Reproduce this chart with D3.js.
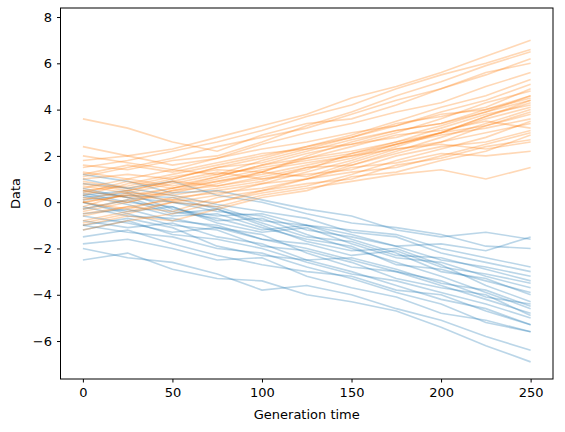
<!DOCTYPE html>
<html><head><meta charset="utf-8">
<script src="https://cdn.jsdelivr.net/npm/d3@7"></script>
<style>body{margin:0;background:#fff}text{font-family:"DejaVu Sans",sans-serif}</style>
</head><body><svg id="c" width="565" height="432"></svg>
<script>
const generations = [0,25,50,75,100,125,150,175,200,225,250];
const xTicks = [0,50,100,150,200,250];
const yTicks = [-6,-4,-2,0,2,4,6,8];
const blueSeries = [
[-0.5,-0.3,-0.8,-1.0,-1.6,-2.0,-2.5,-3.0,-3.6,-4.2,-4.8],
[0.3,0.5,0.0,-0.4,-0.6,-1.2,-1.5,-1.9,-2.5,-2.8,-3.2],
[-1.0,-1.3,-1.5,-2.0,-2.2,-2.8,-3.3,-3.9,-4.4,-5.2,-5.6],
[0.8,0.6,0.9,0.3,0.0,-0.5,-0.9,-1.1,-1.4,-1.9,-2.0],
[-2.0,-2.4,-2.6,-3.1,-3.8,-3.6,-4.0,-4.6,-5.1,-5.8,-6.4],
[0.0,-0.4,-0.2,-0.9,-1.3,-1.1,-1.8,-2.4,-2.6,-3.2,-3.7],
[-0.3,0.1,-0.5,-0.3,-1.0,-1.7,-2.1,-2.0,-2.7,-3.6,-4.3],
[1.2,0.9,0.4,0.5,0.1,-0.3,-0.6,-1.2,-1.5,-1.3,-1.6],
[-1.5,-1.2,-1.8,-2.3,-2.7,-3.0,-3.2,-3.8,-4.0,-4.7,-5.3],
[0.5,0.2,0.0,-0.2,-0.8,-1.0,-1.6,-2.2,-3.0,-3.3,-4.0],
[-0.8,-1.1,-0.9,-1.5,-1.8,-2.5,-2.4,-2.9,-3.5,-3.8,-4.5],
[0.2,0.4,-0.3,-0.6,-0.5,-1.0,-1.2,-1.4,-2.0,-2.4,-2.8],
[-2.5,-2.2,-2.9,-3.3,-3.4,-4.0,-4.3,-4.7,-5.4,-6.2,-6.9],
[0.0,-0.5,-1.0,-1.2,-1.9,-2.1,-2.6,-3.3,-3.7,-4.0,-4.9],
[1.0,0.6,0.3,-0.1,-0.4,-0.7,-1.3,-1.5,-2.2,-2.6,-3.0],
[-1.2,-0.8,-1.4,-1.6,-2.0,-2.6,-3.1,-3.4,-3.9,-4.4,-5.0],
[0.4,0.0,-0.2,-0.8,-0.7,-1.4,-2.0,-2.6,-3.2,-3.9,-4.6],
[-0.6,-0.9,-1.3,-1.1,-1.6,-1.8,-2.3,-2.1,-2.8,-3.1,-3.5],
[0.1,0.3,0.2,-0.3,-0.9,-1.5,-1.7,-2.3,-2.4,-2.9,-3.4],
[-1.8,-1.6,-2.0,-2.5,-2.4,-3.2,-3.7,-4.1,-4.8,-5.1,-5.6],
[0.6,0.2,-0.4,-0.7,-1.2,-1.0,-1.4,-1.9,-1.8,-2.1,-1.5],
[-0.2,-0.6,-0.7,-1.1,-1.4,-2.2,-2.8,-3.0,-3.4,-4.1,-4.4],
[-1.0,-0.7,-1.1,-1.9,-2.3,-2.5,-3.0,-3.6,-4.2,-4.6,-5.3],
[0.3,-0.1,-0.6,-0.5,-1.1,-1.6,-1.9,-2.7,-2.9,-3.4,-3.9]
];
const orangeSeries = [
[0.0,0.3,0.6,0.9,1.2,1.6,2.0,2.5,3.0,3.3,3.8],
[1.0,1.2,1.0,1.5,1.9,2.4,2.8,3.3,3.9,4.4,5.1],
[-0.5,-0.2,0.1,0.0,0.5,0.8,1.0,1.6,1.9,2.4,2.7],
[3.6,3.2,2.6,2.2,2.9,3.4,3.6,4.2,4.9,5.5,6.2],
[0.5,0.7,1.1,1.4,1.3,2.0,2.6,3.1,3.4,4.0,4.6],
[-1.0,-0.6,-0.8,-0.3,0.2,0.5,1.1,1.3,1.8,2.2,2.9],
[0.2,0.0,0.4,0.8,1.3,1.1,1.7,2.3,2.6,3.0,3.4],
[1.8,2.0,1.6,1.9,2.5,3.0,3.4,3.9,4.3,5.0,5.6],
[-0.2,0.4,0.3,0.6,0.9,1.5,1.6,2.2,2.8,3.4,4.0],
[0.8,0.5,0.9,1.3,1.0,1.4,2.1,2.5,2.9,3.2,3.6],
[2.4,2.0,2.3,2.8,3.3,3.8,4.5,5.0,5.6,6.3,7.0],
[-0.8,-0.4,0.0,-0.2,0.3,0.6,0.9,1.2,1.4,1.0,1.5],
[0.3,0.8,1.2,1.6,2.0,2.4,2.9,3.5,4.1,4.6,5.3],
[1.3,1.0,0.7,1.1,1.6,1.9,2.2,2.6,3.2,3.8,4.2],
[-0.4,0.0,0.5,0.7,1.0,1.2,1.4,2.0,2.4,2.6,3.1],
[0.6,1.0,1.4,1.2,1.8,2.3,2.5,3.0,3.6,4.3,4.8],
[0.0,-0.3,0.2,0.4,0.6,1.0,1.3,1.5,2.0,2.5,3.0],
[1.5,1.8,2.2,2.6,3.1,3.7,4.2,4.9,5.5,6.0,6.6],
[-1.2,-0.8,-0.5,0.0,0.4,0.7,1.2,1.8,2.3,2.8,3.5],
[0.9,0.6,1.0,1.5,1.7,2.2,2.7,3.1,3.4,3.9,4.4],
[0.1,0.5,0.9,0.7,1.1,1.5,1.9,2.5,3.0,3.6,4.1],
[2.0,1.7,1.4,1.9,2.3,2.6,3.0,3.3,3.8,4.0,4.5],
[-0.6,-0.2,-0.4,0.2,0.5,1.0,1.6,2.1,2.6,3.3,3.9],
[0.4,0.9,0.6,1.0,1.4,1.7,2.0,2.3,2.5,2.3,2.6],
[1.1,1.5,1.9,2.4,2.8,3.2,3.8,4.4,4.9,5.6,6.0],
[-0.3,0.1,0.5,0.9,1.3,1.9,2.4,2.9,3.1,3.5,3.2],
[0.7,0.4,0.8,1.2,1.5,1.8,2.1,2.6,3.0,3.7,4.4],
[1.6,1.4,1.8,2.0,2.6,3.3,3.9,4.6,5.2,5.9,6.5],
[0.0,0.3,0.1,0.5,0.8,1.0,1.5,1.7,2.1,2.0,2.2],
[-0.9,-0.5,0.0,0.3,0.8,1.3,1.8,2.4,3.0,3.7,4.3],
[0.5,0.2,0.6,1.1,1.6,2.1,2.5,2.8,3.3,3.9,4.6],
[1.2,1.6,1.3,1.7,2.1,2.3,2.8,3.4,3.7,4.1,4.9]
];
const svg = d3.select("#c");
const L=60.5,R=553,T=8,B=379;
const x = d3.scaleLinear().domain([-12.5,262.5]).range([L,R]);
const y = d3.scaleLinear().domain([-7.64,8.39]).range([B,T]);
const line = d3.line().x((d,i)=>x(generations[i])).y(d=>y(d));
const g = svg.append("g");
function draw(series,color){
  g.selectAll(null).data(series).enter().append("path")
   .attr("d",line).attr("fill","none").attr("stroke",color)
   .attr("stroke-width",1.6).attr("stroke-opacity",0.3);
}
draw(blueSeries,"#1f77b4");
draw(orangeSeries,"#ff7f0e");
const xa = svg.append("g").attr("transform",`translate(0,${B})`)
  .call(d3.axisBottom(x).tickValues(xTicks).tickSize(3.5).tickPadding(5));
const ya = svg.append("g").attr("transform",`translate(${L},0)`)
  .call(d3.axisLeft(y).tickValues(yTicks).tickSize(3.5).tickPadding(5).tickFormat(d=>d<0?"−"+(-d):d));
[xa,ya].forEach(a=>{a.select(".domain").remove();a.selectAll("text").attr("font-size",13).attr("fill","#000").style("font-family","DejaVu Sans");a.selectAll("line").attr("stroke","#000");});
svg.append("rect").attr("x",L).attr("y",T).attr("width",R-L).attr("height",B-T).attr("fill","none").attr("stroke","#000").attr("stroke-width",1);
svg.append("text").attr("x",(L+R)/2).attr("y",419).attr("text-anchor","middle").attr("font-size",13).text("Generation time");
svg.append("text").attr("transform",`translate(20,${(T+B)/2}) rotate(-90)`).attr("text-anchor","middle").attr("font-size",13).text("Data");
</script></body></html>
